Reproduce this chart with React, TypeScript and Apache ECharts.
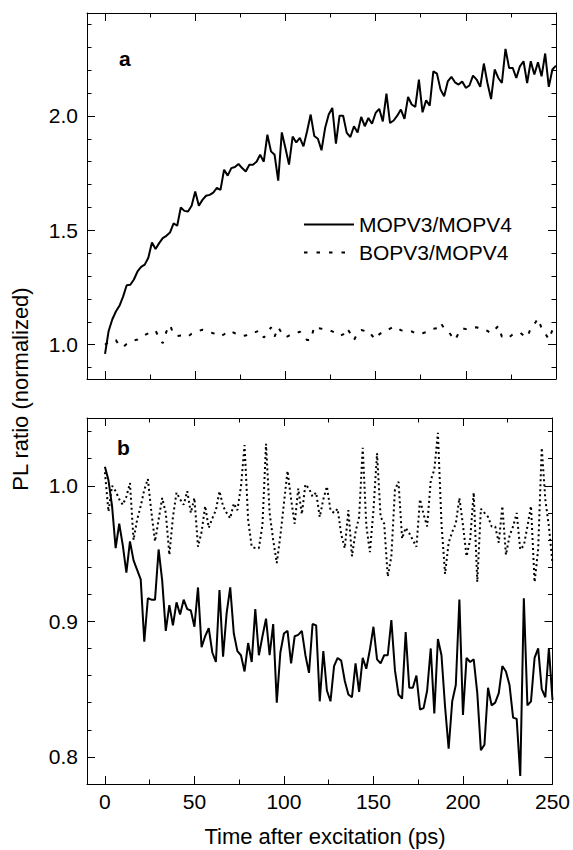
import React, { useEffect, useRef } from "react";
import * as echarts from "echarts";

const FONT = '"Liberation Sans", Arial, Helvetica, sans-serif';

// sampling step of the time axis (ps)
const TIME_STEP = 2;

const xMajorTicks = [0, 50, 100, 150, 200, 250];
const xMinorTicks = [25, 75, 125, 175, 225];
const yMajorA = [1.0, 1.5, 2.0];
const yMinorA = [0.9, 1.1, 1.2, 1.3, 1.4, 1.6, 1.7, 1.8, 1.9, 2.1, 2.2, 2.3, 2.4];
const yMajorB = [0.8, 0.9, 1.0];
const yMinorB = [0.82, 0.84, 0.86, 0.88, 0.92, 0.94, 0.96, 0.98, 1.02, 1.04];

const seriesNames = ["MOPV3/MOPV4", "BOPV3/MOPV4"];

// Panel a
const solidA = [
  0.96, 1.06, 1.11, 1.145, 1.17, 1.21, 1.26, 1.262, 1.285, 1.32,
  1.34, 1.35, 1.38, 1.447, 1.418, 1.444, 1.466, 1.476, 1.49, 1.53,
  1.52, 1.6, 1.585, 1.582, 1.607, 1.67, 1.607, 1.633, 1.651, 1.655,
  1.665, 1.685, 1.677, 1.765, 1.739, 1.772, 1.777, 1.79, 1.772, 1.757,
  1.787, 1.787, 1.8, 1.83, 1.8, 1.918, 1.845, 1.83, 1.717, 1.928,
  1.86, 1.787, 1.91, 1.884, 1.904, 1.867, 1.933, 2.006, 1.912, 1.9,
  1.85, 1.947, 2.006, 2.035, 1.879, 2.001, 2.001, 1.926, 1.908, 1.955,
  1.928, 1.996, 1.955, 1.991, 1.966, 2.013, 2.031, 1.976, 2.098, 1.969,
  1.98, 2.001, 2.028, 1.987, 2.083, 2.05, 2.04, 2.159, 2.016, 2.068,
  2.045, 2.195, 2.185, 2.115, 2.086, 2.151, 2.171, 2.147, 2.137, 2.151,
  2.123, 2.133, 2.176, 2.159, 2.127, 2.229, 2.144, 2.074, 2.203, 2.166,
  2.144, 2.293, 2.21, 2.21, 2.166, 2.217, 2.239, 2.144, 2.239, 2.181,
  2.235, 2.173, 2.273, 2.127, 2.203, 2.22,
];
const dottedA = [
  1.0, 1.013, 1.018, 1.02, 0.995, 0.99, 1.003, 1.01, 1.018, 1.023,
  1.035, 1.042, 1.05, 1.058, 1.061, 1.03, 1.006, 1.057, 1.086, 1.045,
  1.038, 1.04, 1.042, 1.036, 1.048, 1.053, 1.06, 1.065, 1.061, 1.055,
  1.05, 1.048, 1.038, 1.045, 1.06, 1.057, 1.05, 1.045, 1.038, 1.04,
  1.05, 1.05, 1.057, 1.062, 1.031, 1.05, 1.076, 1.035, 1.076, 1.05,
  1.032, 1.04, 1.042, 1.05, 1.057, 1.04, 1.02, 1.02, 1.079, 1.072,
  1.07, 1.066, 1.064, 1.058, 1.05, 1.038, 1.045, 1.072, 1.05, 1.02,
  1.05, 1.064, 1.06, 1.061, 1.04, 1.023, 1.045, 1.057, 1.06, 1.07,
  1.079, 1.075, 1.063, 1.061, 1.057, 1.058, 1.05, 1.047, 1.05, 1.055,
  1.061, 1.07, 1.072, 1.096, 1.072, 1.061, 1.04, 1.02, 1.05, 1.072,
  1.068, 1.07, 1.075, 1.076, 1.07, 1.069, 1.06, 1.05, 1.065, 1.082,
  1.035, 1.04, 1.032, 1.045, 1.05, 1.053, 1.04, 1.032, 1.072, 1.09,
  1.115, 1.072, 1.05, 1.023, 1.064, 1.06,
];

// Panel b
const solidB = [
  1.014, 1.004, 0.985, 0.954, 0.972, 0.956, 0.936, 0.959, 0.945, 0.938,
  0.931, 0.885, 0.917, 0.916, 0.916, 0.953, 0.93, 0.893, 0.912, 0.897,
  0.914, 0.905, 0.916, 0.909, 0.908, 0.896, 0.925, 0.881, 0.889, 0.895,
  0.877, 0.87, 0.923, 0.874, 0.906, 0.925, 0.891, 0.878, 0.875, 0.863,
  0.884, 0.87, 0.909, 0.875, 0.889, 0.902, 0.875, 0.898, 0.84, 0.877,
  0.891, 0.893, 0.869, 0.889, 0.89, 0.893, 0.875, 0.862, 0.898, 0.897,
  0.841, 0.878, 0.849, 0.841, 0.867, 0.873, 0.871, 0.856, 0.846, 0.844,
  0.869, 0.848, 0.873, 0.865, 0.879, 0.896, 0.872, 0.869, 0.875, 0.875,
  0.901, 0.864, 0.846, 0.843, 0.892, 0.851, 0.851, 0.86, 0.835, 0.836,
  0.849, 0.88, 0.832, 0.887, 0.875, 0.837, 0.806, 0.841, 0.853, 0.916,
  0.831, 0.873, 0.87, 0.872, 0.847, 0.805, 0.809, 0.851, 0.838, 0.84,
  0.847, 0.867, 0.863, 0.853, 0.829, 0.828, 0.786, 0.917, 0.838, 0.841,
  0.873, 0.88, 0.85, 0.844, 0.88, 0.842,
];
const dottedB = [
  1.01, 0.981, 1.0, 0.996, 0.99, 0.986, 0.992, 1.002, 0.96, 0.975,
  0.985, 0.997, 1.005, 0.98, 0.959, 0.975, 0.991, 0.98, 0.949, 0.977,
  0.995, 0.99, 0.986, 0.996, 0.98, 0.991, 0.955, 0.966, 0.985, 0.969,
  0.976, 0.982, 0.996, 0.985, 0.98, 0.976, 0.987, 0.982, 0.9995, 1.03,
  0.975, 0.955, 0.954, 0.954, 0.971, 1.031, 0.98, 0.96, 0.943, 0.963,
  0.987, 1.011, 0.99, 0.972, 0.998, 0.979, 1.001, 0.998, 0.992, 0.995,
  0.977, 0.99, 0.9995, 0.982, 0.98, 0.983, 0.964, 0.954, 0.982, 0.948,
  0.966, 0.977, 1.028, 0.971, 0.951, 0.982, 1.024, 0.977, 0.972, 0.933,
  0.948, 0.997, 1.003, 0.961, 0.969, 0.965, 0.96, 0.955, 0.99, 0.979,
  0.97, 1.004, 1.012, 1.039, 0.972, 0.935, 0.958, 0.966, 0.972, 0.991,
  0.971, 0.948, 0.96, 0.995, 0.929, 0.983, 0.98, 0.977, 0.97, 0.97,
  0.958, 0.985, 0.949, 0.963, 0.97, 0.98, 0.953, 0.956, 0.97, 0.985,
  0.929, 0.953, 1.028, 0.99, 0.97, 0.943,
];

const toPairs = (vals: number[]) => vals.map((v, i) => [i * TIME_STEP, v]);

const BLACK = "#000";

function xAx(gridIndex: number, position: string, ticks: number[], len: number, showLine: boolean, labels: boolean) {
  return {
    type: "value",
    gridIndex,
    position,
    min: -10,
    max: 250,
    axisLine: { show: showLine, onZero: false, lineStyle: { color: BLACK, width: 1 } },
    axisTick: { show: true, inside: true, length: len, customValues: ticks, lineStyle: { color: BLACK, width: 1 } },
    axisLabel: labels
      ? { show: true, customValues: ticks, margin: 7, fontSize: 21, color: BLACK, fontFamily: FONT, formatter: (v: number) => String(v) }
      : { show: false },
    splitLine: { show: false },
  };
}

function yAx(gridIndex: number, position: string, min: number, max: number, ticks: number[], len: number, showLine: boolean, labels: boolean) {
  return {
    type: "value",
    gridIndex,
    position,
    min,
    max,
    axisLine: { show: showLine, onZero: false, lineStyle: { color: BLACK, width: 1 } },
    axisTick: { show: true, inside: true, length: len, customValues: ticks, lineStyle: { color: BLACK, width: 1 } },
    axisLabel: labels
      ? { show: true, customValues: ticks, margin: 9, fontSize: 21, color: BLACK, fontFamily: FONT, formatter: (v: number) => v.toFixed(1) }
      : { show: false },
    splitLine: { show: false },
  };
}

export default function App() {
  const ref = useRef<HTMLDivElement>(null);
  useEffect(() => {
    if (!ref.current) return;
    const chart = echarts.init(ref.current, undefined, { renderer: "svg" });
    const MAJ = 8;
    const MIN = 4.5;
    const option = {
      animation: false,
      backgroundColor: "#fff",
      textStyle: { fontFamily: FONT, color: BLACK },
      grid: [
        { left: 87, top: 13, width: 469, height: 366 },
        { left: 87, top: 418, width: 469, height: 366 },
      ],
      xAxis: [
        xAx(0, "bottom", xMajorTicks, MAJ, true, false),
        xAx(0, "bottom", xMinorTicks, MIN, false, false),
        xAx(0, "top", xMajorTicks, MAJ, true, false),
        xAx(0, "top", xMinorTicks, MIN, false, false),
        xAx(1, "bottom", xMajorTicks, MAJ, true, true),
        xAx(1, "bottom", xMinorTicks, MIN, false, false),
        xAx(1, "top", xMajorTicks, MAJ, true, false),
        xAx(1, "top", xMinorTicks, MIN, false, false),
      ],
      yAxis: [
        yAx(0, "left", 0.85, 2.45, yMajorA, MAJ, true, true),
        yAx(0, "left", 0.85, 2.45, yMinorA, MIN, false, false),
        yAx(0, "right", 0.85, 2.45, yMajorA, MAJ, true, false),
        yAx(0, "right", 0.85, 2.45, yMinorA, MIN, false, false),
        yAx(1, "left", 0.78, 1.05, yMajorB, MAJ, true, true),
        yAx(1, "left", 0.78, 1.05, yMinorB, MIN, false, false),
        yAx(1, "right", 0.78, 1.05, yMajorB, MAJ, true, false),
        yAx(1, "right", 0.78, 1.05, yMinorB, MIN, false, false),
      ],
      legend: {
        show: true,
        orient: "vertical",
        left: 303,
        top: 214,
        padding: 0,
        itemWidth: 50,
        itemHeight: 14,
        itemGap: 7,
        selectedMode: false,
        itemStyle: { opacity: 0, borderWidth: 0 },
        textStyle: { fontSize: 21, color: BLACK, fontFamily: FONT },
        data: [
          { name: seriesNames[0] },
          { name: seriesNames[1], lineStyle: { type: [3.5, 9], width: 2, color: BLACK } },
        ],
      },
      series: [
        {
          type: "line",
          name: seriesNames[0],
          xAxisIndex: 0,
          yAxisIndex: 0,
          data: toPairs(solidA),
          symbol: "none",
          silent: true,
          itemStyle: { color: BLACK },
          lineStyle: { color: BLACK, width: 2, type: "solid" },
        },
        {
          type: "line",
          name: seriesNames[1],
          xAxisIndex: 0,
          yAxisIndex: 0,
          data: toPairs(dottedA),
          symbol: "none",
          silent: true,
          itemStyle: { color: BLACK },
          lineStyle: { color: BLACK, width: 2, type: [3.5, 8.5] },
        },
        {
          type: "line",
          name: seriesNames[0],
          xAxisIndex: 4,
          yAxisIndex: 4,
          data: toPairs(solidB),
          symbol: "none",
          silent: true,
          itemStyle: { color: BLACK },
          lineStyle: { color: BLACK, width: 2, type: "solid" },
        },
        {
          type: "line",
          name: seriesNames[1],
          xAxisIndex: 4,
          yAxisIndex: 4,
          data: toPairs(dottedB),
          symbol: "none",
          silent: true,
          itemStyle: { color: BLACK },
          lineStyle: { color: BLACK, width: 2, type: [2, 3] },
        },
      ],
      graphic: [
        {
          type: "text",
          x: 119,
          y: 58,
          silent: true,
          style: { text: "a", fontSize: 21, fontWeight: "bold", fontFamily: FONT, fill: BLACK, align: "left", verticalAlign: "middle" },
        },
        {
          type: "text",
          x: 117,
          y: 447,
          silent: true,
          style: { text: "b", fontSize: 21, fontWeight: "bold", fontFamily: FONT, fill: BLACK, align: "left", verticalAlign: "middle" },
        },
        {
          type: "text",
          x: 20,
          y: 389,
          rotation: Math.PI / 2,
          silent: true,
          style: { text: "PL ratio (normalized)", fontSize: 22, fontFamily: FONT, fill: BLACK, align: "center", verticalAlign: "middle" },
        },
        {
          type: "text",
          x: 325,
          y: 836,
          silent: true,
          style: { text: "Time after excitation (ps)", fontSize: 22, fontFamily: FONT, fill: BLACK, align: "center", verticalAlign: "middle" },
        },
      ],
    };
    chart.setOption(option as any);
    return () => chart.dispose();
  }, []);
  return (
    <div
      ref={ref}
      style={{ position: "absolute", left: 0, top: 0, width: 573, height: 850, background: "#fff" }}
    />
  );
}
